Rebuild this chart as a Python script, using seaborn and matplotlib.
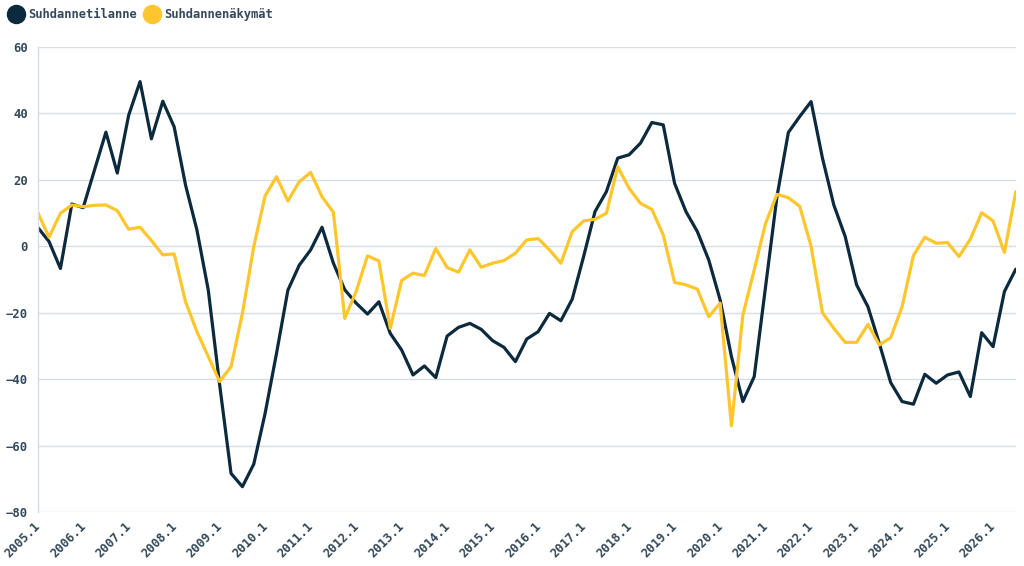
import matplotlib
matplotlib.use("Agg")
import matplotlib.pyplot as plt
import matplotlib.transforms as mtransforms
from matplotlib.lines import Line2D
import seaborn as sns
import pandas as pd
import numpy as np

years = list(range(2005, 2027))
quarters = [1, 2, 3, 4]
periods = [f"{y}.{q}" for y in years for q in quarters][:87]

suhdannetilanne = [
    5.7, 1.4, -6.7, 12.7, 11.6, 23.0, 34.3, 22.0, 39.4, 49.5,
    32.3, 43.6, 35.9, 18.4, 4.9, -13.2, -41.7, -68.3, -72.3, -65.5,
    -50.2, -32.2, -13.2, -5.7, -1.1, 5.7, -5.1, -13.1, -17.1, -20.4,
    -16.7, -26.2, -31.2, -38.7, -36.0, -39.5, -27.0, -24.4, -23.2, -25.0,
    -28.4, -30.4, -34.7, -27.9, -25.7, -20.2, -22.4, -15.9, -3.1, 10.4,
    16.4, 26.5, 27.5, 31.0, 37.2, 36.5, 18.9, 10.4, 4.4, -4.1,
    -16.1, -33.2, -46.7, -39.2, -12.1, 14.9, 34.2, 39.0, 43.5, 26.5,
    12.4, 2.9, -11.6, -18.2, -29.2, -41.0, -46.7, -47.5, -38.5, -41.2,
    -38.7, -37.8, -45.2, -26.0, -30.2, -13.6, -6.9,
]

suhdannenakymat = [
    10.2, 2.7, 9.9, 12.4, 11.9, 12.3, 12.4, 10.7, 5.1, 5.7,
    1.7, -2.6, -2.3, -16.7, -25.7, -33.2, -40.7, -36.2, -20.2, -0.1,
    15.2, 20.9, 13.6, 19.4, 22.2, 14.9, 10.2, -21.7, -13.6, -2.9,
    -4.4, -24.7, -10.3, -8.1, -8.8, -0.7, -6.4, -7.8, -1.1, -6.3,
    -5.1, -4.3, -2.1, 1.9, 2.3, -1.1, -5.1, 4.4, 7.6, 8.1,
    9.9, 23.9, 17.4, 12.9, 11.1, 3.4, -10.9, -11.6, -12.9, -21.2,
    -17.1, -54.0, -20.7, -7.1, 6.9, 15.6, 14.6, 12.0, 0.0, -20.0,
    -24.7, -28.9, -28.9, -23.5, -29.7, -27.5, -18.2, -2.8, 2.7, 0.9,
    1.1, -3.1, 2.1, 10.1, 7.6, -1.9, 16.4,
]

series_names = ["Suhdannetilanne", "Suhdannenäkymät"]
colors = ["#0c2a3d", "#fdc62c"]
y_ticks = [60, 40, 20, 0, -20, -40, -60, -80]

sns.set_theme(style="white")
plt.rcParams["font.family"] = ["DejaVu Sans Mono", "DejaVu Sans"]
plt.rcParams["axes.unicode_minus"] = True

idx = np.arange(len(periods))
df = pd.DataFrame({
    "i": np.concatenate([idx, idx]),
    "value": suhdannetilanne + suhdannenakymat,
    "series": [series_names[0]] * len(idx) + [series_names[1]] * len(idx),
})

fig = plt.figure(figsize=(10.24, 5.66), dpi=100)
ax = fig.add_axes([0.0368, 0.0949, 0.9552, 0.8226])

sns.lineplot(data=df, x="i", y="value", hue="series", palette=colors,
             linewidth=2.3, ax=ax, legend=False)

text_color = "#34495a"
ax.set_xlim(0, len(periods) - 1)
ax.set_ylim(-80, 60)
ax.set_yticks(y_ticks)
ax.set_yticklabels([f"{v}".replace("-", "\u2212") for v in y_ticks],
                   fontsize=8.8, fontweight="bold", color=text_color)
tick_pos = idx[::4]
ax.set_xticks(tick_pos)
ax.set_xticklabels([periods[k] for k in tick_pos], rotation=45, ha="right",
                   va="top", rotation_mode="anchor", fontsize=8.8,
                   fontweight="bold", color=text_color)
ax.tick_params(axis="both", length=0)
ax.tick_params(axis="y", pad=7)
ax.tick_params(axis="x", pad=5)
offset = mtransforms.ScaledTranslation(-4 / 100, 0, fig.dpi_scale_trans)
for lab in ax.get_xticklabels():
    lab.set_transform(lab.get_transform() + offset)
ax.set_xlabel("")
ax.set_ylabel("")
ax.grid(axis="y", color="#d8dde1", linewidth=1)
ax.set_axisbelow(True)
for s in ["top", "right", "bottom"]:
    ax.spines[s].set_visible(False)
ax.spines["left"].set_color("#d8dde1")
ax.spines["left"].set_linewidth(1)

handles = [Line2D([0], [0], marker="o", linestyle="none", markersize=13,
                  markerfacecolor=c, markeredgecolor=c) for c in colors]
leg = fig.legend(handles, series_names, loc="upper left",
                 bbox_to_anchor=(-0.003, 1.005), ncol=2, frameon=False,
                 handletextpad=0.35, columnspacing=0.65, handlelength=1.3,
                 prop={"family": "DejaVu Sans Mono", "weight": "bold",
                       "size": 8.75})
for t in leg.get_texts():
    t.set_color(text_color)

fig.savefig("out.png", dpi=100)
